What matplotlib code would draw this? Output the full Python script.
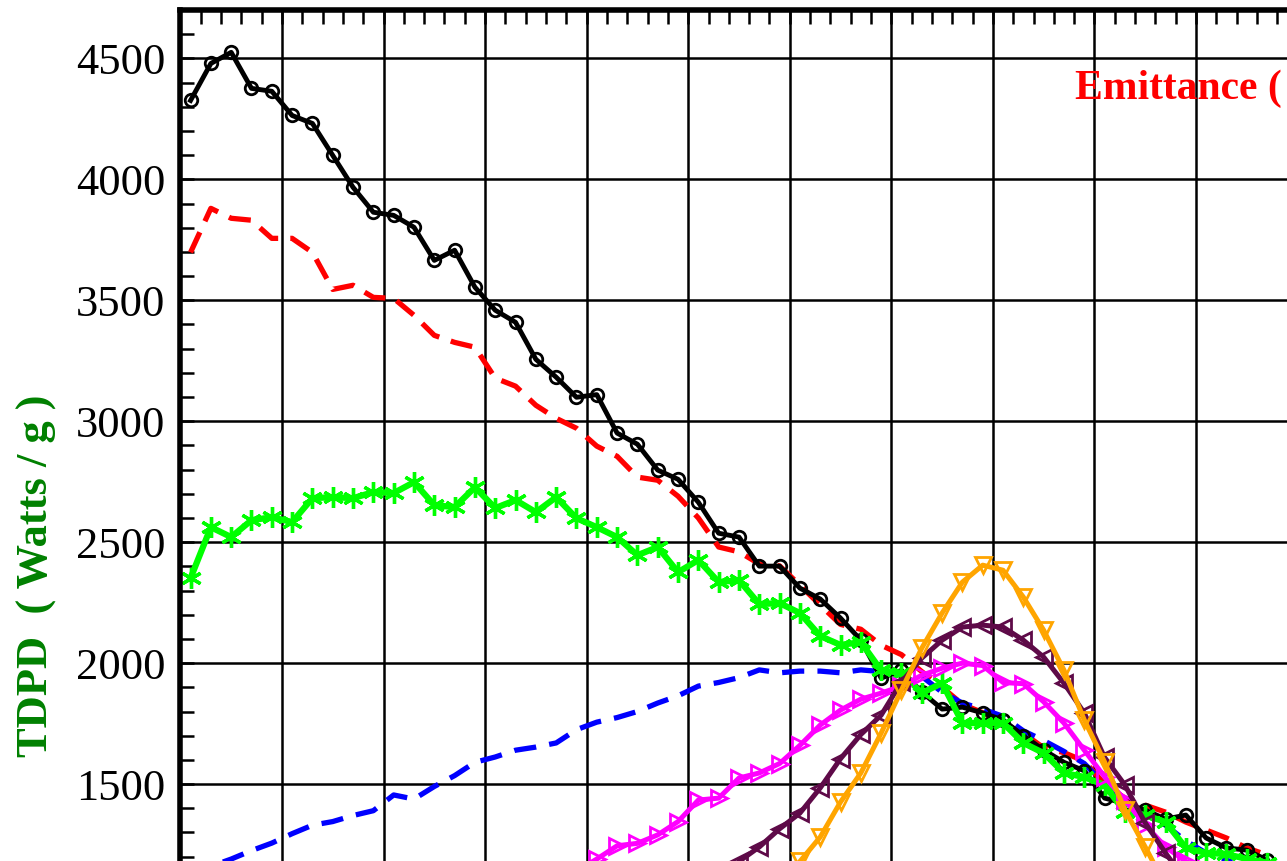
import matplotlib
matplotlib.use('Agg')
import matplotlib.pyplot as plt
import numpy as np

# ---------------- data (index positions 0..53) ----------------
black_vals = [4326, 4479, 4525, 4376, 4364, 4264, 4231, 4099, 3967, 3864,
              3851, 3802, 3665, 3707, 3554, 3459, 3409, 3256, 3182, 3099,
              3110, 2951, 2905, 2798, 2760, 2665, 2537, 2521, 2401, 2401,
              2310, 2265, 2186, 2095, 1938, 1970, 1880, 1810, 1818, 1794,
              1765, 1700, 1641, 1590, 1555, 1442, 1420, 1393, 1355, 1372,
              1277, 1236, 1227, 1186]
red_vals = [3698, 3880, 3839, 3831, 3756, 3756, 3698, 3545, 3562, 3512,
            3508, 3438, 3355, 3326, 3306, 3178, 3145, 3066, 3012, 2971,
            2897, 2855, 2769, 2756, 2690, 2600, 2480, 2460, 2410, 2402,
            2322, 2240, 2160, 2140, 2074, 2035, 1965, 1900, 1830, 1795,
            1750, 1710, 1650, 1630, 1595, 1500, 1442, 1413, 1384, 1343,
            1310, 1277, 1236, 1207]
green_vals = [2351, 2562, 2521, 2591, 2603, 2583, 2682, 2686, 2682, 2707,
              2703, 2748, 2653, 2645, 2727, 2641, 2674, 2624, 2686, 2599,
              2562, 2521, 2446, 2480, 2376, 2426, 2335, 2343, 2244, 2248,
              2207, 2112, 2075, 2087, 1970, 1960, 1876, 1918, 1752, 1752,
              1752, 1670, 1628, 1546, 1529, 1496, 1384, 1372, 1343, 1236,
              1215, 1211, 1190, 1175]
blue_vals = [1130, 1160, 1190, 1225, 1256, 1295, 1330, 1345, 1370, 1390,
             1455, 1438, 1490, 1535, 1590, 1612, 1640, 1653, 1670, 1725,
             1756, 1775, 1800, 1835, 1865, 1905, 1920, 1940, 1972, 1960,
             1967, 1967, 1960, 1972, 1965, 1962, 1945, 1880, 1835, 1810,
             1780, 1720, 1680, 1635, 1585, 1500, 1430, 1375, 1330, 1265,
             1215, 1185, 1160, 1140]
N = None
magenta_vals = [N, N, N, N, N, N, N, N, N, N,
                N, N, N, N, N, N, N, N, N, 1140,
                1190, 1245, 1255, 1290, 1345, 1434, 1442, 1525, 1546, 1585,
                1660, 1744, 1806, 1851, 1876, 1905, 1950, 1979, 2000, 1990,
                1920, 1915, 1840, 1752, 1640, 1530, 1434, 1331, 1240, 1180,
                1150, N, N, N]
purple_vals = [N, N, N, N, N, N, N, N, N, N,
               N, N, N, N, N, N, N, N, N, N,
               N, N, N, N, N, N, 1100, 1180, 1240, 1315,
               1380, 1484, 1605, 1705, 1785, 1922, 2021, 2095, 2149, 2157,
               2149, 2095, 2025, 1917, 1794, 1610, 1496, 1340, 1215, 1100,
               N, N, N, N]
orange_vals = [N, N, N, N, N, N, N, N, N, N,
               N, N, N, N, N, N, N, N, N, N,
               N, N, N, N, N, N, N, N, N, 1050,
               1180, 1281, 1426, 1546, 1711, 1889, 2062, 2207, 2335, 2405,
               2384, 2273, 2136, 1971, 1765, 1591, 1393, 1240, 1080, N,
               N, N, N, N]

y_ticks = [1500, 2000, 2500, 3000, 3500, 4000, 4500]
y_label = "TDPD  ( Watts / g )"
annot = "Emittance ("

def arr(v):
    return np.array([np.nan if a is None else a for a in v], dtype=float)

x = np.arange(len(black_vals)) + 0.5

plt.rcParams['font.family'] = ['Liberation Serif', 'DejaVu Serif']

fig = plt.figure(figsize=(12.87, 8.61), dpi=100)
W, H = 1287.0, 861.0
ax = fig.add_axes([180.4 / W, 0.0, 1 - 180.4 / W, 1 - 10.0 / H])
ax.set_xlim(0, 54.48)
ax.set_ylim(1182, 4698)

ax.set_xticks(np.arange(0, 55, 5))
ax.set_xticks(np.arange(0, 55, 1), minor=True)
ax.set_yticks(y_ticks)
ax.set_yticks(np.arange(1200, 4701, 100), minor=True)
ax.set_yticklabels([str(t) for t in y_ticks])

ax.grid(True, which='major', color='black', linewidth=1.8)
ax.set_axisbelow(True)

ax.xaxis.set_ticks_position('top')
ax.tick_params(axis='x', which='both', direction='in', labeltop=False,
               labelbottom=False, top=True, bottom=False)
ax.tick_params(axis='x', which='minor', length=10, width=1.8)
ax.tick_params(axis='x', which='major', length=10, width=1.8)
ax.tick_params(axis='y', which='both', direction='in', left=True, right=False)
ax.tick_params(axis='y', which='minor', length=10, width=1.8)
ax.tick_params(axis='y', which='major', length=10, width=1.8,
               labelsize=32, pad=11)

for s in ['right', 'bottom']:
    ax.spines[s].set_visible(False)
for s in ['top', 'left']:
    ax.spines[s].set_linewidth(4.0)
    ax.spines[s].set_zorder(10)

ax.plot(x, arr(red_vals), color='#FF0000', lw=3.8, dashes=(4.2, 2.3), zorder=3)
ax.plot(x, arr(blue_vals), color='#0000FF', lw=3.8, dashes=(4.2, 2.5), zorder=3)
ax.plot(x, arr(black_vals), color='black', lw=3.5, marker='o', ms=9,
        mfc='none', mec='black', mew=2.0, zorder=4)
ax.plot(x, arr(green_vals), color='#00FF00', lw=4.5, marker=(6, 2, 0), ms=15,
        mec='#00FF00', mew=2.4, zorder=5)
ax.plot(x, arr(magenta_vals), color='#FF00FF', lw=3.6, marker='>', ms=11,
        mfc='none', mec='#FF00FF', mew=2.0, zorder=5)
ax.plot(x, arr(purple_vals), color='#5E0A48', lw=3.6, marker='<', ms=11,
        mfc='none', mec='#5E0A48', mew=2.0, zorder=6)
ax.plot(x, arr(orange_vals), color='#FFA500', lw=3.6, marker='v', ms=11,
        mfc='none', mec='#FFA500', mew=2.0, zorder=6)

ax.text(44.05, 4376, annot, color='#FF0000', fontsize=30, fontweight='bold',
        ha='left', va='center', zorder=8, clip_on=False)

fig.text(37 / W, 1 - 576 / H, y_label, color='#008000', fontsize=32,
         fontweight='bold', rotation=90, ha='center', va='center')

fig.savefig('out.png', dpi=100)
